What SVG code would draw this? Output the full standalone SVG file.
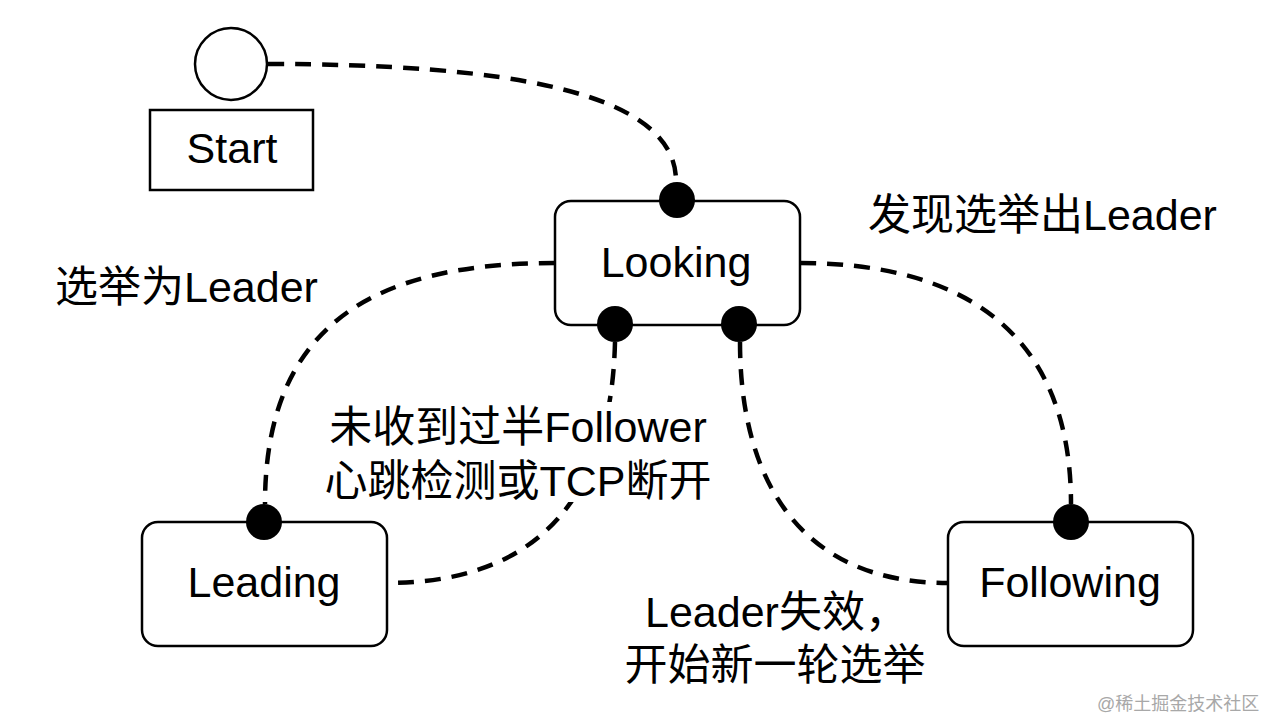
<svg xmlns="http://www.w3.org/2000/svg" width="1262" height="720" viewBox="0 0 1262 720">
<style>
.box{fill:#fff;stroke:#000;stroke-width:2.5}
.dot{fill:#000}
.conn{fill:none;stroke:#000;stroke-width:4.5;stroke-dasharray:16 11}
.t{font-family:"Liberation Sans","Noto Sans CJK SC",sans-serif;font-size:43px;fill:#000}
.c{text-anchor:middle}
.wm{font-family:"Liberation Sans","Noto Sans CJK SC",sans-serif;font-size:18px;fill:#a8a8a8}
</style>
<rect width="1262" height="720" fill="#fff"/>
<g id="connectors">
<path class="conn" d="M268,64 C500,64 676,90 676,181"/>
<path class="conn" d="M555,263 C380,263 265,320 265,504"/>
<path class="conn" d="M615,342 C612,470 560,583 387,583"/>
<path class="conn" d="M740,342 C740,480 800,583 948,583"/>
<path class="conn" d="M800,263 C960,263 1071,330 1071,504"/>
</g>
<g id="start">
<circle class="box" cx="231" cy="64" r="36"/>
<rect class="box" x="150" y="110" width="163" height="80"/>
<text class="t c" x="232" y="163">Start</text>
</g>
<g id="looking">
<rect class="box" x="555" y="201" width="245" height="124" rx="16"/>
<text class="t c" x="676" y="277">Looking</text>
<circle class="dot" cx="677" cy="200" r="18"/>
<circle class="dot" cx="615" cy="324" r="18"/>
<circle class="dot" cx="739" cy="324" r="18"/>
</g>
<g id="leading">
<rect class="box" x="142" y="522" width="245" height="124" rx="16"/>
<text class="t c" x="264" y="597">Leading</text>
<circle class="dot" cx="264" cy="522" r="18"/>
</g>
<g id="following">
<rect class="box" x="948" y="522" width="245" height="124" rx="16"/>
<text class="t c" x="1070" y="597">Following</text>
<circle class="dot" cx="1071" cy="522" r="18"/>
</g>
<g id="labels">
<text class="t" x="55" y="302">选举为Leader</text>
<text class="t" x="868" y="230">发现选举出Leader</text>
<rect x="322" y="402" width="392" height="100" fill="#fff"/>
<text class="t c" x="518" y="442">未收到过半Follower</text>
<text class="t c" x="518" y="496">心跳检测或TCP断开</text>
<text class="t" x="645" y="627">Leader失效，</text>
<text class="t c" x="775" y="680">开始新一轮选举</text>
<text class="wm" x="1097" y="710">@稀土掘金技术社区</text>
</g>
</svg>
